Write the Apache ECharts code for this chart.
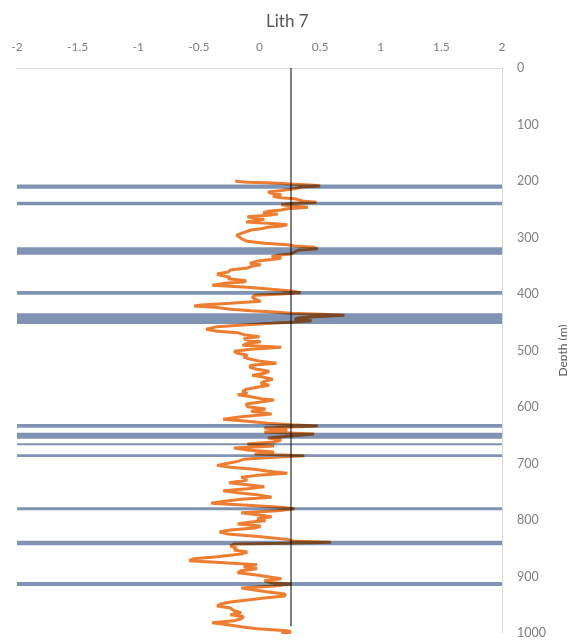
<!DOCTYPE html>
<html>
<head>
<meta charset="utf-8">
<title>Lith 7</title>
<script src="https://cdn.jsdelivr.net/npm/echarts@6/dist/echarts.min.js"></script>
<style>
  html, body { margin: 0; padding: 0; background: #fff; }
  #chart { width: 567px; height: 640px; }
</style>
</head>
<body>
<div id="chart"></div>
<script>
// Log values: depth (m) and value
const depths = [
    200, 201, 202, 203, 205.5, 207.5, 209, 210.6, 213.6, 217, 219.5, 221.8, 224.2, 226.5, 229,
    231.3, 233.6, 236, 237.8, 239.5, 241.9, 244.3, 246.6, 249, 251.3, 253.7, 256, 258.4, 260.8,
    263.1, 265.5, 267.8, 270.2, 272.6, 274.9, 277.3, 279.7, 282, 284.4, 286.7, 289.1, 292.6,
    296.2, 299.7, 303.3, 306.8, 310.3, 312.7, 315, 317.4, 319.8, 322.1, 325.7, 329.2, 331.6,
    334, 336.3, 338.7, 341, 343.4, 345.7, 348.1, 350.5, 354, 357.5, 361.1, 364.6, 367, 370.5,
    372.9, 376.4, 378.8, 381.1, 384.7, 388.2, 391.8, 394.5, 397.6, 400, 402.3, 405.9, 409.4,
    413, 416.5, 419.5, 421.2, 423.6, 427.1, 429.5, 431.8, 434.2, 436, 437.7, 440.1, 442.5,
    444.8, 447.2, 449.5, 451.9, 454.3, 457.8, 462.5, 466.1, 468.4, 472, 475.5, 479, 481.4,
    484.4, 487.3, 490.8, 494.4, 497.9, 501.5, 505, 508.5, 512.1, 515.6, 519.2, 522.7, 526.2,
    529.8, 533.3, 536.9, 540.4, 543.9, 547.5, 551, 554.6, 558.1, 561.6, 565.2, 568.7, 572.3,
    575.8, 578.2, 581.7, 585.2, 587.6, 591.1, 594.7, 599.4, 603.6, 607.7, 612.4, 617.1, 621.8,
    625.4, 628.9, 631.3, 633.6, 637.2, 640.7, 644.3, 647.8, 651.3, 654.9, 658.4, 662, 665.5,
    669, 672.6, 676.1, 679.7, 683.2, 686.2, 689.1, 692.6, 696.2, 699.7, 703.3, 706.8, 710.3,
    713.9, 717.4, 721, 724.5, 729.2, 734, 737.5, 741, 744.6, 748.1, 751.6, 755.2, 759.9, 763.4,
    767, 770.5, 774.1, 777.6, 780, 783.5, 787, 790.6, 794.1, 797.7, 801.2, 803.6, 807.1, 810.7,
    814.2, 817.7, 821.3, 824.8, 829.5, 834.3, 837.8, 839.6, 841.3, 842.5, 846.1, 849.6, 853.1,
    856.7, 860.2, 865, 868.5, 872, 875.6, 879.1, 882.6, 886.2, 889.7, 893.3, 896.8, 900.3,
    903.9, 907.4, 911, 913.3, 916.9, 920.4, 923.9, 927.5, 931, 934.6, 938.1, 941.6, 945.2,
    948.7, 952.3, 955.8, 960.5, 964.1, 967.6, 971.1, 974.7, 978.2, 981.8, 985.3, 988.8, 992.4,
    995.9, 998.5, 1000
];
const values = [
    -0.20, -0.17, -0.10, 0.07, 0.26, 0.45, 0.50, 0.35, 0.29, 0.18, 0.07, 0.10, 0.18, 0.11, 0.15,
    0.29, 0.28, 0.37, 0.47, 0.29, 0.18, 0.26, 0.40, 0.23, 0.18, 0.07, 0.03, 0.15, 0.07,
    -0.10, -0.04, 0.04, -0.03, -0.11, 0.07, 0.23, 0.18, 0.07, 0.01, -0.07, -0.08, -0.15,
    -0.19, -0.18, -0.14, -0.10, 0.04, 0.23, 0.29, 0.45, 0.48, 0.32, 0.29, 0.26, 0.15,
    0.10, 0.18, 0.12, 0.00, 0.01, -0.08, 0.01, -0.06, -0.10, -0.24, -0.26, -0.35, -0.32, -0.24,
    -0.26, -0.11, -0.13, -0.29, -0.39, -0.10, 0.10, 0.26, 0.34, 0.18, -0.04, -0.06, -0.03,
    0.01, -0.24, -0.48, -0.54, -0.37, -0.24, -0.07, 0.12, 0.26, 0.51, 0.70, 0.45, 0.32,
    0.29, 0.43, 0.29, 0.10, -0.10, -0.35, -0.44, -0.35, -0.18, -0.13, 0.00, -0.13, -0.10,
    0.01, -0.10, -0.14, 0.18, -0.07, -0.21, -0.18, -0.10, -0.13, -0.07, 0.01, 0.14, -0.07,
    -0.08, -0.02, 0.08, 0.04, -0.06, 0.04, 0.11, 0.04, 0.01, 0.08, -0.02, -0.11, -0.14,
    -0.10, -0.18, -0.07, 0.01, 0.12, 0.01, -0.11, -0.10, 0.05, -0.07, 0.10, -0.15, -0.30,
    -0.10, 0.07, 0.26, 0.48, 0.04, 0.23, 0.04, 0.45, 0.26, 0.07, 0.18, 0.12, -0.10,
    0.12, -0.21, -0.10, 0.12, -0.04, 0.37, 0.12, -0.13, -0.18, -0.26, -0.35, -0.24, -0.04,
    0.07, 0.23, -0.02, -0.15, -0.10, -0.25, -0.10, 0.04, -0.10, -0.30, -0.18, -0.02, 0.10, -0.15,
    -0.29, -0.40, -0.10, 0.18, 0.29, 0.15, -0.15, -0.02, 0.10, -0.02, 0.05, -0.07, -0.18, 0.01,
    -0.04, -0.24, -0.33, -0.26, 0.01, 0.23, 0.29, 0.59, 0.18, -0.21, -0.24, -0.19, -0.21,
    -0.10, -0.15, -0.35, -0.54, -0.58, -0.29, -0.02, -0.13, -0.02, -0.15, -0.18, -0.04, 0.07,
    0.18, 0.04, 0.10, 0.26, 0.12, -0.15, -0.04, 0.07, 0.21, 0.21, 0.04, -0.10, -0.24,
    -0.32, -0.35, -0.24, -0.21, -0.15, -0.24, -0.13, -0.15, -0.21, -0.39, -0.26, -0.15, -0.02,
    0.23, 0.26, 0.18
];

// Vertical reference line
const refValue = 0.26;
const refDepths = [0, 988];

// Horizontal bands (top and bottom depth, m)
const bandTops    = [206.4, 236.6, 317.3, 394.7, 434.2, 630.1, 645.5, 664.2, 683.7, 777.5, 836.6, 909.7];
const bandBottoms = [213.5, 243.0, 330.4, 401.2, 453.1, 636.6, 656.1, 667.8, 688.5, 782.8, 844.8, 916.8];

const xMin = -2, xMax = 2, xStep = 0.5;
const yMin = 0, yMax = 1000, yStep = 100;

const chart = echarts.init(document.getElementById('chart'), null, { renderer: 'canvas' });

const font = 'Lato, "Open Sans", sans-serif';

const option = {
    backgroundColor: '#ffffff',
    animation: false,
    title: {
        text: 'Lith 7',
        left: 261,
        top: 8,
        textStyle: { color: '#595959', fontSize: 17, fontWeight: 'normal', fontFamily: font }
    },
    grid: { left: 17, right: 65, top: 68, bottom: 7, outerBoundsMode: 'none' },
    xAxis: {
        type: 'value',
        position: 'top',
        min: xMin,
        max: xMax,
        interval: xStep,
        axisLine: { show: true, onZero: false, lineStyle: { color: '#d9d9d9', width: 1 } },
        axisTick: { show: false },
        splitLine: { show: false },
        axisLabel: { color: '#808080', fontSize: 12, fontFamily: font, margin: 15 }
    },
    yAxis: {
        type: 'value',
        position: 'right',
        inverse: true,
        min: yMin,
        max: yMax,
        interval: yStep,
        name: 'Depth (m)',
        nameLocation: 'middle',
        nameRotate: 90,
        nameGap: 47,
        nameTextStyle: { color: '#595959', fontSize: 12, fontFamily: font },
        axisLine: { show: true, onZero: false, lineStyle: { color: '#d9d9d9', width: 1 } },
        axisTick: { show: false },
        splitLine: { show: false },
        axisLabel: {
            color: '#808080', fontSize: 12.5, fontFamily: font, margin: 15,
            formatter: v => String(v)
        }
    },
    series: [
        {
            name: 'Log',
            type: 'line',
            data: depths.map((d, i) => [values[i], d]),
            showSymbol: false,
            lineStyle: { color: '#ed7d31', width: 3 },
            z: 2
        },
        {
            name: 'Mean',
            type: 'line',
            data: refDepths.map(d => [refValue, d]),
            showSymbol: false,
            lineStyle: { color: '#000000', width: 1 },
            z: 3
        },
        {
            name: 'Bands',
            type: 'custom',
            blendMode: 'multiply',
            data: bandTops.map((t, i) => [t, bandBottoms[i]]),
            renderItem: function (params, api) {
                const p1 = api.coord([xMin, api.value(0)]);
                const p2 = api.coord([xMax, api.value(1)]);
                return {
                    type: 'rect',
                    shape: { x: p1[0], y: p1[1], width: p2[0] - p1[0], height: p2[1] - p1[1] },
                    style: { fill: '#8093b3' }
                };
            },
            z: 4
        }
    ]
};

chart.setOption(option);
</script>
</body>
</html>
